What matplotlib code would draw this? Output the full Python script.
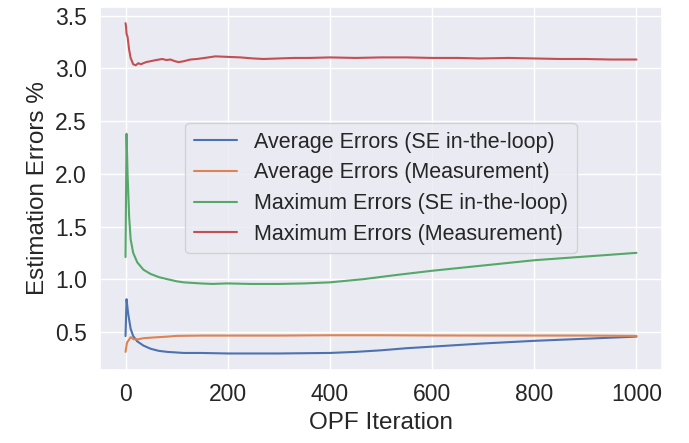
import numpy as np
import matplotlib
matplotlib.use('Agg')
import matplotlib.pyplot as plt
import seaborn as sns

# values
it_se_avg = [0, 2, 5, 10, 15, 23, 35, 49, 65, 82, 114, 147, 200, 300, 400,
             450, 500, 550, 600, 700, 800, 900, 1000]
se_avg = [0.46, 0.81, 0.68, 0.53, 0.46, 0.41, 0.37, 0.34, 0.32, 0.31, 0.30,
          0.30, 0.295, 0.295, 0.30, 0.31, 0.325, 0.345, 0.36, 0.39, 0.415,
          0.435, 0.455]

it_meas_avg = [0, 3, 6, 10, 16, 25, 35, 49, 65, 82, 100, 150, 200, 300, 400,
               500, 600, 700, 800, 900, 1000]
meas_avg = [0.31, 0.40, 0.42, 0.45, 0.43, 0.43, 0.44, 0.445, 0.45, 0.455,
            0.462, 0.465, 0.465, 0.465, 0.468, 0.468, 0.466, 0.465, 0.465,
            0.465, 0.462]

it_se_max = [0, 2, 4, 7, 10, 15, 23, 35, 49, 65, 82, 100, 114, 130, 147, 170,
             199, 244, 300, 350, 400, 465, 530, 600, 700, 800, 900, 1000]
se_max = [1.21, 2.38, 2.0, 1.6, 1.38, 1.25, 1.16, 1.09, 1.05, 1.02, 1.0, 0.98,
          0.97, 0.965, 0.96, 0.955, 0.96, 0.955, 0.955, 0.96, 0.97, 1.0, 1.04,
          1.08, 1.13, 1.18, 1.215, 1.25]

it_meas_max = [0, 1, 2, 4, 7, 10, 15, 20, 25, 30, 40, 50, 60, 72, 80, 88, 96,
               104, 115, 127, 140, 155, 176, 200, 225, 250, 270, 300, 330, 360,
               400, 450, 500, 550, 600, 650, 693, 750, 800, 850, 900, 950, 1000]
meas_max = [3.43, 3.40, 3.33, 3.30, 3.18, 3.10, 3.04, 3.03, 3.05, 3.04, 3.06,
            3.07, 3.08, 3.09, 3.08, 3.085, 3.07, 3.06, 3.07, 3.085, 3.09, 3.10,
            3.115, 3.11, 3.105, 3.095, 3.09, 3.095, 3.10, 3.10, 3.105, 3.10,
            3.105, 3.105, 3.10, 3.10, 3.095, 3.10, 3.095, 3.09, 3.09, 3.085,
            3.085]

labels = ['Average Errors (SE in-the-loop)', 'Average Errors (Measurement)',
          'Maximum Errors (SE in-the-loop)', 'Maximum Errors (Measurement)']

sns.set_theme(style='darkgrid')
plt.rcParams['font.family'] = ['Liberation Sans', 'DejaVu Sans']

fig, ax = plt.subplots(figsize=(6.89, 4.43), dpi=100)
fig.subplots_adjust(left=0.1451, right=0.9608, bottom=0.1648, top=0.985)

ax.plot(it_se_avg, se_avg, label=labels[0])
ax.plot(it_meas_avg, meas_avg, label=labels[1])
ax.plot(it_se_max, se_max, label=labels[2])
ax.plot(it_meas_max, meas_max, label=labels[3])

ax.set_xlabel('OPF Iteration', fontsize=17.5)
ax.set_ylabel('Estimation Errors %', fontsize=17.5)
ax.set_yticks([0.5, 1.0, 1.5, 2.0, 2.5, 3.0, 3.5])
ax.tick_params(labelsize=16.5)
ax.legend(loc='center', fontsize=15.5, labelspacing=0.45)

fig.savefig('out.png', dpi=100)
